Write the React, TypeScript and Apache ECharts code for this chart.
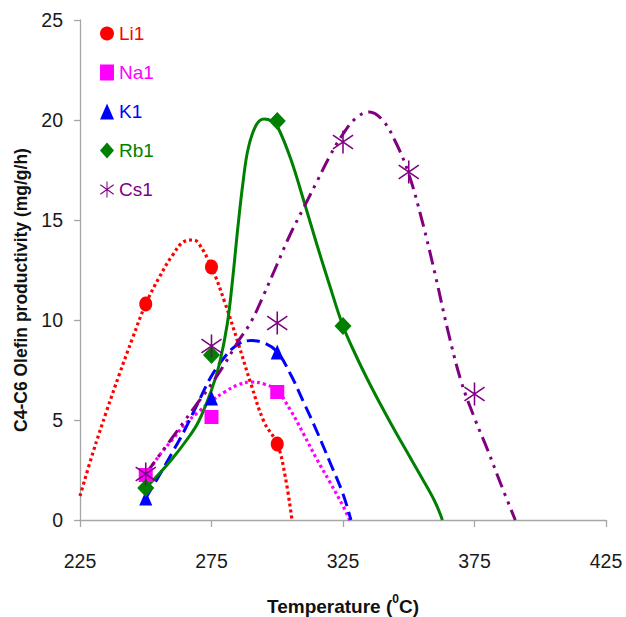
import React, { useEffect, useRef } from "react";
import * as echarts from "echarts";

// Measured points (temperature °C -> productivity mg/g/h)
const temps = [250, 275, 300, 325, 350, 375];
const li1 = [10.8, 12.65, 3.8];
const na1 = [2.25, 5.15, 6.4];
const k1 = [1.1, 6.1, 8.4];
const rb1 = [1.6, 8.25, 19.95, 9.7];
const cs1 = [2.3, 8.7, 9.85, 18.9, 17.4, 6.3];

// Trend curves
const liFitX = [225, 230, 235, 240, 245, 250, 255, 260, 265, 268, 270, 275, 280, 285, 290, 295, 300, 303, 305.6];
const liFitY = [1.2, 3.4, 5.4, 7.3, 9.1, 10.8, 12.1, 13.2, 13.95, 14.0, 13.85, 12.65, 10.9, 8.9, 6.8, 4.9, 3.8, 2.2, 0];
const naFitX = [250, 255, 260, 265, 270, 275, 280, 285, 290, 295, 300, 305, 310, 315, 320, 325, 327.5];
const naFitY = [2.25, 3.2, 4.0, 4.8, 5.4, 5.95, 6.4, 6.75, 6.9, 6.8, 6.45, 5.5, 4.3, 3.05, 1.9, 0.7, 0];
const kFitX = [250, 255, 260, 265, 270, 275, 280, 285, 290, 295, 300, 305, 310, 315, 320, 325, 328];
const kFitY = [1.1, 2.2, 3.35, 4.55, 5.9, 7.2, 8.15, 8.78, 8.97, 8.85, 8.4, 7.3, 5.9, 4.45, 2.9, 1.3, 0];
const rbFitX = [250, 255, 260, 265, 270, 275, 278, 281, 283, 285, 287, 289, 292, 295, 298, 300, 305, 310, 315, 320, 325, 330, 335, 340, 345, 350, 355, 360, 362.8];
const rbFitY = [1.6, 2.3, 3.05, 3.9, 4.9, 6.5, 7.8, 9.8, 12.0, 14.6, 16.9, 18.6, 19.75, 20.05, 19.95, 19.7, 18.1, 16.0, 13.8, 11.7, 9.7, 8.2, 6.85, 5.6, 4.4, 3.25, 2.1, 0.9, 0];
const csFitX = [250, 255, 260, 265, 270, 275, 280, 285, 290, 295, 300, 305, 310, 315, 320, 325, 330, 335, 340, 345, 350, 355, 360, 365, 370, 375, 380, 385, 390.5];
const csFitY = [2.3, 3.2, 4.1, 5.0, 5.9, 6.8, 7.8, 8.9, 9.9, 11.3, 12.8, 14.3, 15.6, 16.9, 18.2, 19.3, 20.1, 20.4, 20.0, 18.9, 17.3, 15.0, 12.3, 9.4, 6.9, 5.1, 3.5, 1.8, 0];

const seriesNames = ["Li1", "Na1", "K1", "Rb1", "Cs1"];
const colors = ["#FF0000", "#FF00FF", "#0000FF", "#008000", "#800080"];

const FONT = "'Liberation Sans', Arial, Helvetica, sans-serif";

const ASTERISK =
  "path://M-0.7,-10L0.7,-10L0.7,10L-0.7,10Z" +
  "M-8.6,-6.6L9.4,5.4L8.6,6.6L-9.4,-5.4Z" +
  "M-9.4,5.4L8.6,-6.6L9.4,-5.4L-8.6,6.6Z";

const pair = (xs: number[], ys: number[]) => ys.map((y, i) => [xs[i], y]);

export default function App() {
  const ref = useRef<HTMLDivElement>(null);

  useEffect(() => {
    if (!ref.current) return;
    const chart = echarts.init(ref.current, null, { renderer: "svg" });

    const markerData = [li1, na1, k1, rb1, cs1];
    const symbols = ["circle", "rect", "triangle", "diamond", ASTERISK];
    const sizes: number[][] = [[13, 15], [14, 14], [13, 15], [17, 18], [21, 23]];
    const fits = [
      { x: liFitX, y: liFitY, type: [3, 3] as any, width: 3.2 },
      { x: naFitX, y: naFitY, type: [3, 3] as any, width: 3.2 },
      { x: kFitX, y: kFitY, type: [13, 6] as any, width: 3 },
      { x: rbFitX, y: rbFitY, type: "solid" as any, width: 3 },
      { x: csFitX, y: csFitY, type: [15, 6, 3, 6, 3, 6] as any, width: 3 },
    ];

    const series: any[] = [];
    fits.forEach((f, i) => {
      series.push({
        name: seriesNames[i] + " fit",
        type: "line",
        data: pair(f.x, f.y),
        symbol: "none",
        smooth: 0.4,
        lineStyle: { color: colors[i], width: f.width, type: f.type, cap: "butt" },
        z: 2,
      });
    });
    markerData.forEach((vals, i) => {
      series.push({
        name: seriesNames[i],
        type: "scatter",
        data: vals.map((v, j) => [temps[j], v]),
        symbol: symbols[i],
        symbolSize: sizes[i],
        itemStyle: { color: colors[i], opacity: 1 },
        z: 3,
      });
    });

    chart.setOption({
      animation: false,
      backgroundColor: "#ffffff",
      grid: { left: 80, right: 20, top: 20, bottom: 97, containLabel: false },
      legend: {
        orient: "vertical",
        left: 100,
        top: 24,
        padding: 0,
        itemGap: 20,
        itemWidth: 14,
        itemHeight: 16,
        symbolKeepAspect: false,
        textStyle: { fontSize: 19, fontFamily: FONT },
        data: seriesNames.map((n, i) => ({ name: n, textStyle: { color: colors[i] } })),
        selectedMode: false,
      },
      xAxis: {
        type: "value",
        min: 225,
        max: 425,
        interval: 50,
        axisLine: { show: true, lineStyle: { color: "#a6a6a6", width: 1.3 } },
        axisTick: { show: true, length: 7, lineStyle: { color: "#a6a6a6", width: 1.3 } },
        splitLine: { show: false },
        axisLabel: { fontSize: 19.5, color: "#1a1a1a", fontFamily: FONT, margin: 31 },
      },
      yAxis: {
        type: "value",
        min: 0,
        max: 25,
        interval: 5,
        axisLine: { show: true, lineStyle: { color: "#a6a6a6", width: 1.3 } },
        axisTick: { show: true, length: 6, lineStyle: { color: "#a6a6a6", width: 1.3 } },
        splitLine: { show: false },
        axisLabel: { fontSize: 19.5, color: "#1a1a1a", fontFamily: FONT, margin: 17 },
      },
      graphic: [
        {
          type: "text",
          x: 21,
          y: 290,
          rotation: Math.PI / 2,
          style: {
            text: "C4-C6 Olefin productivity (mg/g/h)",
            fontSize: 17.5,
            fontWeight: "bold",
            fontFamily: FONT,
            fill: "#111111",
            align: "center",
            verticalAlign: "middle",
          },
        },
        {
          type: "text",
          x: 343,
          y: 606,
          style: {
            text: "{a|Temperature (}{s|0}{a|C)}",
            align: "center",
            verticalAlign: "middle",
            rich: {
              a: { fontSize: 19, fontWeight: "bold", fontFamily: FONT, fill: "#111111", lineHeight: 26 },
              s: { fontSize: 12, fontWeight: "bold", fontFamily: FONT, fill: "#111111", verticalAlign: "top", lineHeight: 12 },
            },
          },
        },
      ],
      series,
    });

    return () => chart.dispose();
  }, []);

  return (
    <div
      ref={ref}
      style={{ position: "fixed", left: 0, top: 0, width: 626, height: 617, background: "#fff" }}
    />
  );
}
